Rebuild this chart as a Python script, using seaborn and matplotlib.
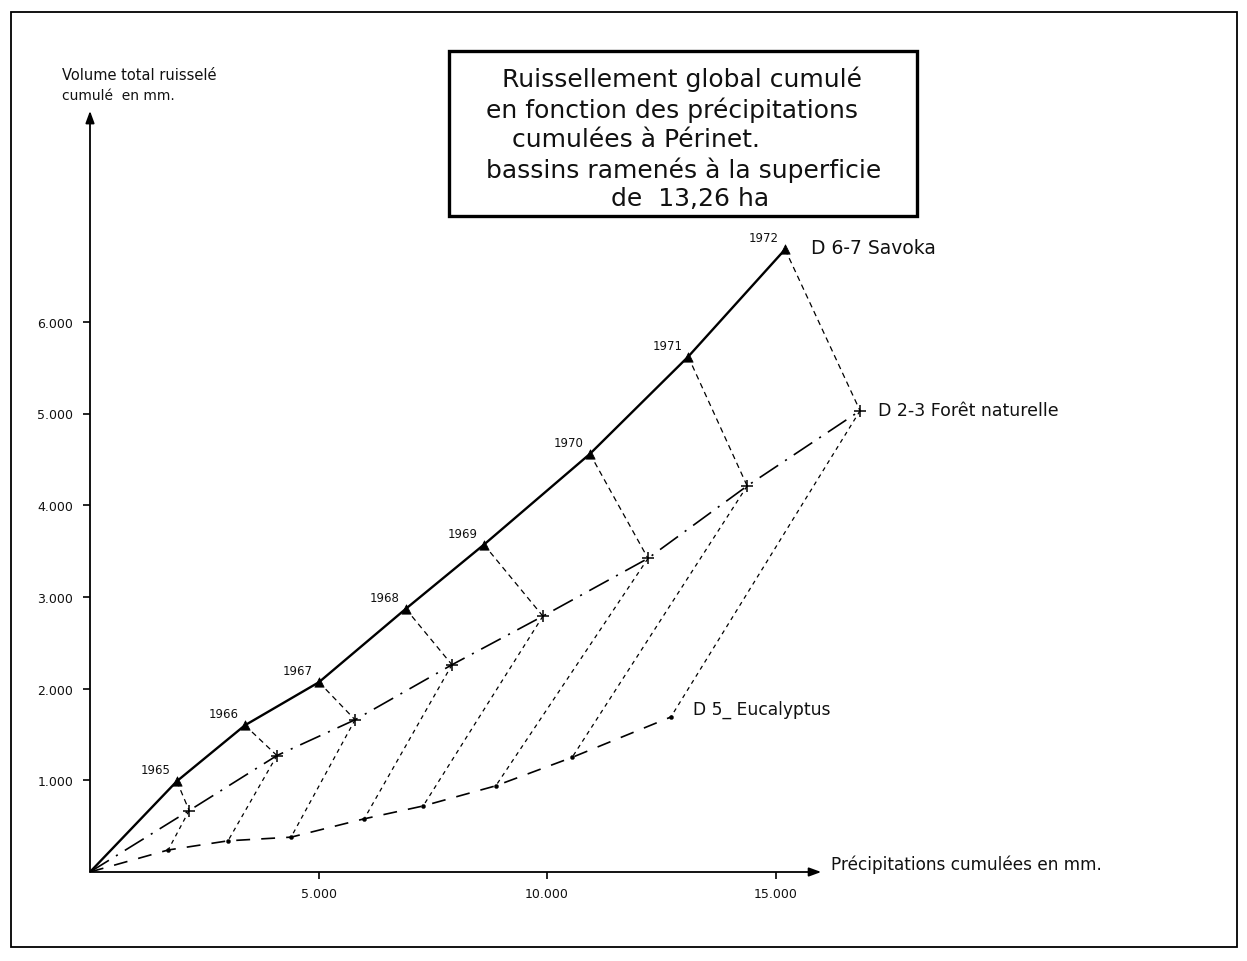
import matplotlib
matplotlib.use("Agg")
import matplotlib.pyplot as plt
from matplotlib.patches import Rectangle
import seaborn as sns
import pandas as pd

# Cumulative values per hydrological year (mm), basins scaled to 13.26 ha
years = [1965, 1966, 1967, 1968, 1969, 1970, 1971, 1972]

precip_savoka = [1900, 3390, 5010, 6910, 8620, 10940, 13090, 15210]
runoff_savoka = [990, 1600, 2070, 2870, 3570, 4560, 5620, 6790]

precip_foret = [2170, 4090, 5800, 7920, 9910, 12210, 14380, 16850]
runoff_foret = [670, 1270, 1660, 2260, 2790, 3420, 4210, 5030]

precip_euca = [1710, 3020, 4400, 6000, 7290, 8880, 10550, 12710]
runoff_euca = [240, 340, 380, 580, 720, 940, 1250, 1690]

series_names = ["D 6-7 Savoka", "D 2-3 Forêt naturelle", "D 5_ Eucalyptus"]

x_ticks = [5000, 10000, 15000]
x_tick_labels = ["5.000", "10.000", "15.000"]
y_ticks = [1000, 2000, 3000, 4000, 5000, 6000]
y_tick_labels = ["1.000", "2.000", "3.000", "4.000", "5.000", "6.000"]

title_lines = [
    "Ruissellement global cumulé",
    "en fonction des précipitations",
    "cumulées à Périnet.",
    "bassins ramenés à la superficie",
    "de  13,26 ha",
]

sns.set_theme(style="white")
plt.rcParams["font.family"] = ["DejaVu Sans"]
plt.rcParams["lines.scale_dashes"] = False

W, H = 1247, 962
fig = plt.figure(figsize=(W / 100, H / 100), dpi=100)
fig.patch.set_facecolor("white")

# axes placed in pixel units: origin at (90, 873), 45.7 px per 1000 mm in x, 91.7 px per 1000 mm in y
x_max, y_max = 25000, 9000
ax_l, ax_b = 90, 873
ax_w, ax_h = x_max / 1000 * 45.7, y_max / 1000 * 91.7
ax = fig.add_axes([ax_l / W, (H - ax_b) / H, ax_w / W, ax_h / H])
ax.set_xlim(0, x_max)
ax.set_ylim(0, y_max)
ax.set_facecolor("none")
for s in ax.spines.values():
    s.set_visible(False)

def with_origin(v):
    return [0] + list(v)

frames = []
for name, px, ry in [
    (series_names[0], precip_savoka, runoff_savoka),
    (series_names[1], precip_foret, runoff_foret),
    (series_names[2], precip_euca, runoff_euca),
]:
    frames.append(pd.DataFrame({"precip": with_origin(px), "runoff": with_origin(ry),
                                "bassin": name, "order": range(len(px) + 1)}))
df = pd.concat(frames, ignore_index=True)

styles = {
    series_names[0]: dict(lw=1.7, dashes=None),
    series_names[1]: dict(lw=1.2, dashes=(16, 6, 1.5, 6)),
    series_names[2]: dict(lw=1.2, dashes=(10, 8)),
}

# year-to-year link lines between the three basins
link_top = dict(color="black", lw=0.9, dashes=(4, 3))
link_low = dict(color="black", lw=0.9, dashes=(3, 3))
for i in range(len(years)):
    ax.plot([precip_savoka[i], precip_foret[i]], [runoff_savoka[i], runoff_foret[i]], **link_top)
    ax.plot([precip_foret[i], precip_euca[i]], [runoff_foret[i], runoff_euca[i]], **link_low)

for name in series_names:
    sub = df[df["bassin"] == name]
    st = styles[name]
    sns.lineplot(data=sub, x="precip", y="runoff", sort=False, estimator=None,
                 color="black", lw=st["lw"], ax=ax, legend=False)
    if st["dashes"] is not None:
        ax.lines[-1].set_dashes(st["dashes"])

sns.scatterplot(x=precip_savoka, y=runoff_savoka, marker="^", s=45, color="black",
                edgecolor="black", ax=ax, zorder=5)
sns.scatterplot(x=precip_foret, y=runoff_foret, marker="+", s=70, color="black",
                linewidth=1.1, ax=ax, zorder=5)
sns.scatterplot(x=precip_euca, y=runoff_euca, marker="o", s=9, color="black",
                edgecolor="black", ax=ax, zorder=5)

# year labels on the Savoka curve
for yr, xv, yv in zip(years, precip_savoka, runoff_savoka):
    ax.annotate(str(yr), (xv, yv), xytext=(-6, 5), textcoords="offset pixels",
                ha="right", va="bottom", fontsize=8.5, color="#111111")

# series names
ax.annotate(series_names[0], (precip_savoka[-1], runoff_savoka[-1]), xytext=(26, 2),
            textcoords="offset pixels", ha="left", va="center", fontsize=13.5, color="#111111")
ax.annotate(series_names[1], (precip_foret[-1], runoff_foret[-1]), xytext=(18, 1),
            textcoords="offset pixels", ha="left", va="center", fontsize=12.5, color="#111111")
ax.annotate(series_names[2], (precip_euca[-1], runoff_euca[-1]), xytext=(22, 8),
            textcoords="offset pixels", ha="left", va="center", fontsize=12.3, color="#111111")

# axes drawn as arrows from the origin
arrow = dict(arrowstyle="-|>,head_length=0.6,head_width=0.22", color="black", lw=1.3,
             shrinkA=0, shrinkB=0)
ax.annotate("", xy=(16000, 0), xytext=(0, 0), arrowprops=arrow)
ax.annotate("", xy=(0, 8300), xytext=(0, 0), arrowprops=arrow)

ax.set_xticks(x_ticks, x_tick_labels)
ax.set_yticks(y_ticks, y_tick_labels)
ax.tick_params(axis="both", direction="out", length=5, width=1.2, color="black",
               labelsize=9, labelcolor="#111111", bottom=True, left=True)
ax.tick_params(axis="x", pad=6)
ax.tick_params(axis="y", pad=7)
ax.set_xlabel("")
ax.set_ylabel("")
ax.grid(False)

ax.annotate("Précipitations cumulées en mm.", (16000, 0), xytext=(10, 8),
            textcoords="offset pixels", ha="left", va="center", fontsize=12.2, color="#111111")
fig.text(62 / W, 1 - 75 / H, "Volume total ruisselé", fontsize=10.5, ha="left", va="center",
         color="#111111")
fig.text(62 / W, 1 - 96 / H, "cumulé  en mm.", fontsize=10, ha="left", va="center",
         color="#111111")

# title box
fig.patches.append(Rectangle((449 / W, 1 - 217 / H), 468 / W, 165 / H, transform=fig.transFigure,
                             fill=False, edgecolor="black", lw=2.4, figure=fig))
title_pos = [(682, 79), (672, 110), (636, 140), (684, 170), (690, 199)]
for line, (tx, ty) in zip(title_lines, title_pos):
    fig.text(tx / W, 1 - ty / H, line, fontsize=18, ha="center", va="center", color="#111111")

# outer frame
fig.patches.append(Rectangle((11 / W, 1 - 948 / H), 1226 / W, 935 / H, transform=fig.transFigure,
                             fill=False, edgecolor="black", lw=1.3, figure=fig))

fig.savefig("out.png", dpi=100)
